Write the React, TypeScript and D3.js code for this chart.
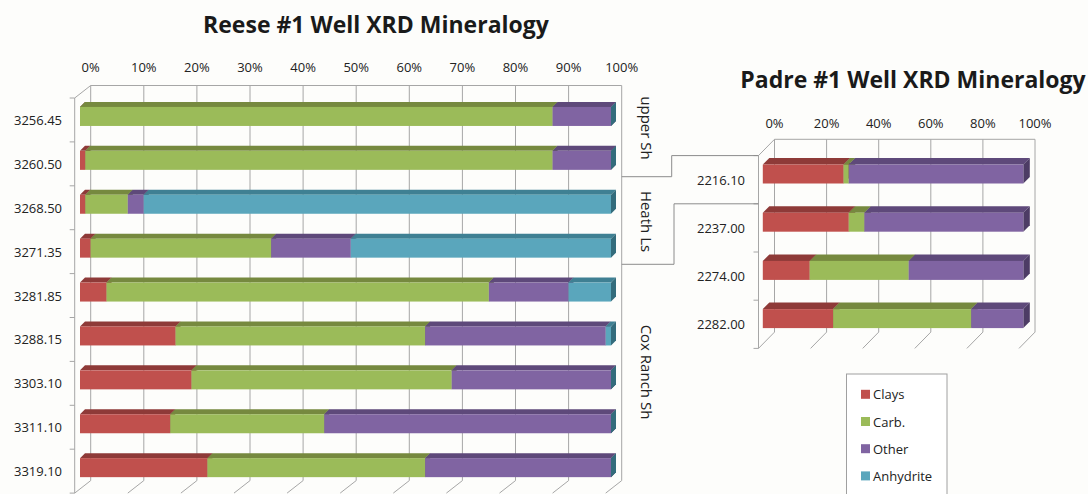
import React from "react";
import * as d3 from "d3";

const reeseDepths = ["3256.45", "3260.50", "3268.50", "3271.35", "3281.85", "3288.15", "3303.10", "3311.10", "3319.10"];
const reeseClays = [0, 1, 1, 2, 5, 18, 21, 17, 24];
const reeseCarb = [89, 88, 8, 34, 72, 47, 49, 29, 41];
const reeseOther = [11, 11, 3, 15, 15, 34, 30, 54, 35];
const reeseAnhydrite = [0, 0, 88, 49, 8, 1, 0, 0, 0];

const padreDepths = ["2216.10", "2237.00", "2274.00", "2282.00"];
const padreClays = [31, 33, 18, 27];
const padreCarb = [2, 6, 38, 53];
const padreOther = [67, 61, 44, 20];

const reeseTicks = [0, 10, 20, 30, 40, 50, 60, 70, 80, 90, 100];
const padreTicks = [0, 20, 40, 60, 80, 100];

const seriesNames = ["Clays", "Carb.", "Other", "Anhydrite"];
const formations = [
  { name: "upper Sh", y: 128 },
  { name: "Heath Ls", y: 221.5 },
  { name: "Cox Ranch Sh", y: 372 },
];

const COLORS = [
  { front: "#C0504D", top: "#8E3A38", side: "#7A302E" },
  { front: "#9BBB59", top: "#76893F", side: "#5F7033" },
  { front: "#8064A2", top: "#5E497A", side: "#4D3C65" },
  { front: "#5AA6BC", top: "#3F8093", side: "#336C7C" },
];

const FONT = "'Open Sans', 'DejaVu Sans', sans-serif";
const GRID = "#A6A6A6";
const TEXT = "#222";

type ChartCfg = {
  id: string;
  cats: string[];
  series: number[][];
  ticks: number[];
  xRange: [number, number];
  yRange: [number, number];
  wall: [number, number];
  barOff: [number, number];
  depth: [number, number];
  barH: number;
  tickLabelY: number;
  labelRight: number;
};

function Chart3D({ cfg }: { cfg: ChartCfg }) {
  const x = d3.scaleLinear().domain([0, 100]).range(cfg.xRange);
  const y = d3.scaleBand<string>().domain(cfg.cats).range(cfg.yRange).padding(0);
  const [wdx, wdy] = cfg.wall;
  const [fdx, fdy] = cfg.barOff;
  const [ox, oy] = cfg.depth;
  const top = cfg.yRange[0];
  const bottom = cfg.yRange[1];
  const bw = y.bandwidth();
  const stack = d3
    .stack<number>()
    .keys(cfg.series.map((_, i) => String(i)))
    .value((d, key) => cfg.series[+key][d])(cfg.cats.map((_, i) => i));

  const elems: React.ReactNode[] = [];
  cfg.ticks.forEach((t) => {
    elems.push(
      <line key={`g${t}`} x1={x(t)} x2={x(t)} y1={top} y2={bottom} stroke={GRID} strokeWidth={1} />
    );
    elems.push(
      <line key={`f${t}`} x1={x(t)} x2={x(t) + wdx} y1={bottom} y2={bottom + wdy} stroke={GRID} strokeWidth={1} />
    );
    elems.push(
      <text key={`t${t}`} x={x(t)} y={cfg.tickLabelY} textAnchor="middle" dominantBaseline="central" fontFamily={FONT} fontSize={13} fill={TEXT}>
        {`${t}%`}
      </text>
    );
  });
  elems.push(<line key="topline" x1={x(0)} x2={x(100)} y1={top} y2={top} stroke={GRID} />);
  elems.push(<line key="ldiag" x1={x(0)} y1={top} x2={x(0) + wdx} y2={top + wdy} stroke={GRID} />);
  elems.push(<line key="laxis" x1={x(0) + wdx} y1={top + wdy} x2={x(0) + wdx} y2={bottom + wdy} stroke={GRID} />);
  cfg.cats.forEach((c, i) => {
    const yb = (y(c) as number) + wdy;
    elems.push(<line key={`tk${i}`} x1={x(0) + wdx - 5} x2={x(0) + wdx} y1={yb} y2={yb} stroke={GRID} />);
    elems.push(
      <text key={`cl${i}`} x={cfg.labelRight} y={yb + bw / 2} textAnchor="end" dominantBaseline="central" fontFamily={FONT} fontSize={13} fill={TEXT}>
        {c}
      </text>
    );
  });
  elems.push(<line key="tkend" x1={x(0) + wdx - 5} x2={x(0) + wdx} y1={bottom + wdy} y2={bottom + wdy} stroke={GRID} />);

  cfg.cats.forEach((c, i) => {
    const cy = (y(c) as number) + bw / 2 + fdy;
    const yt = cy - cfg.barH / 2;
    const yb = cy + cfg.barH / 2;
    stack.forEach((layer, s) => {
      const [v0, v1] = layer[i];
      const x0 = x(v0) + fdx;
      const x1 = x(v1) + fdx;
      const col = COLORS[s];
      elems.push(
        <g key={`b${i}-${s}`}>
          <polygon points={`${x0},${yt} ${x1},${yt} ${x1 + ox},${yt + oy} ${x0 + ox},${yt + oy}`} fill={col.top} />
          <polygon points={`${x1},${yt} ${x1 + ox},${yt + oy} ${x1 + ox},${yb + oy} ${x1},${yb}`} fill={col.side} />
          {x1 > x0 && <rect x={x0} y={yt} width={x1 - x0} height={yb - yt} fill={col.front} />}
        </g>
      );
    });
  });
  return <g>{elems}</g>;
}

export default function App() {
  const reese: ChartCfg = {
    id: "reese",
    cats: reeseDepths,
    series: [reeseClays, reeseCarb, reeseOther, reeseAnhydrite],
    ticks: reeseTicks,
    xRange: [90.7, 621.7],
    yRange: [85.5, 480.6],
    wall: [-16, 12.5],
    barOff: [-10.7, 9],
    depth: [5, -5],
    barH: 19,
    tickLabelY: 67,
    labelRight: 62,
  };
  const padre: ChartCfg = {
    id: "padre",
    cats: padreDepths,
    series: [padreClays, padreCarb, padreOther],
    ticks: padreTicks,
    xRange: [774.5, 1035],
    yRange: [139.3, 332.1],
    wall: [-16, 16.3],
    barOff: [-11.7, 10.6],
    depth: [6.5, -6.5],
    barH: 19,
    tickLabelY: 122.5,
    labelRight: 745,
  };
  return (
    <svg width={1088} height={494} style={{ position: "absolute", left: 0, top: 0, background: "#FDFDFB" }}>
      <text x={376} y={33} textAnchor="middle" fontFamily={FONT} fontWeight={700} fontSize={23} fill="#1a1a1a">
        Reese #1 Well XRD Mineralogy
      </text>
      <text x={913} y={88} textAnchor="middle" fontFamily={FONT} fontWeight={700} fontSize={23} fill="#1a1a1a">
        Padre #1 Well XRD Mineralogy
      </text>
      <Chart3D cfg={reese} />
      <Chart3D cfg={padre} />
      <polyline points="621.7,176.7 671.7,176.7 671.7,155.6 758.5,155.6" fill="none" stroke="#8C8C8C" strokeWidth={1} />
      <polyline points="621.7,264.3 674,264.3 674,203.8 758.5,203.8" fill="none" stroke="#8C8C8C" strokeWidth={1} />
      {formations.map((f) => (
        <text key={f.name} transform={`translate(646.5,${f.y}) rotate(90)`} textAnchor="middle" dominantBaseline="central" fontFamily={FONT} fontSize={15} fill={TEXT}>
          {f.name}
        </text>
      ))}
      <rect x={846.5} y={374} width={100.5} height={130} fill="#FFFFFF" stroke="#A0A0A0" strokeWidth={1} />
      {seriesNames.map((n, i) => (
        <g key={n} transform={`translate(861,${394.3 + i * 27.2})`}>
          <rect x={0} y={-4.5} width={9} height={9} fill={COLORS[i].front} />
          <text x={12} y={0} dominantBaseline="central" fontFamily={FONT} fontSize={13} fill={TEXT}>
            {n}
          </text>
        </g>
      ))}
    </svg>
  );
}
